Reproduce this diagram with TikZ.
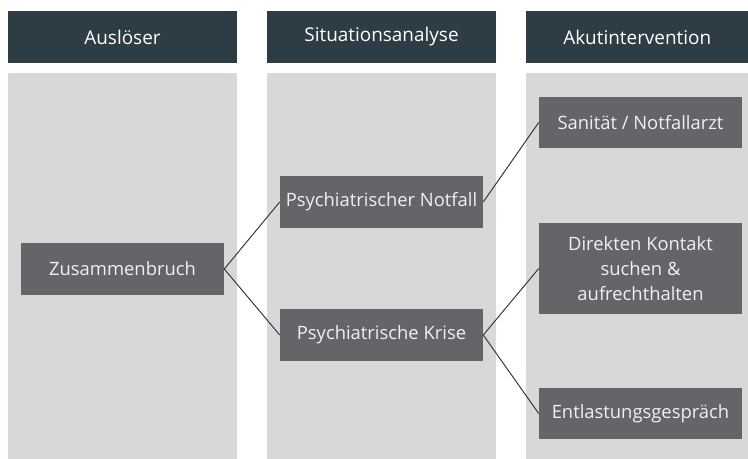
\documentclass[tikz,border=0pt]{standalone}
\usepackage{fontspec}
\setmainfont{Open Sans}
\usepackage{xcolor}
\usepackage{tikz}
\usetikzlibrary{positioning}

\definecolor{headdark}{HTML}{2E3D45}
\definecolor{colgray}{HTML}{D9D7D8}
\definecolor{boxgray}{HTML}{646569}

\tikzset{
    head/.style={rectangle, fill=headdark, text=white, minimum width=171.75pt, minimum height=39pt, inner sep=0pt, font=\fontsize{14.2}{17}\selectfont},
    box/.style={rectangle, fill=boxgray, text=white!94!black, minimum width=152.25pt, minimum height=38.5pt, inner sep=0pt, align=center, font=\fontsize{13.8}{19}\selectfont},
    link/.style={draw=headdark, line width=0.75pt}
}

\begin{document}
\begin{tikzpicture}[x=0.75pt, y=-0.75pt]
    \useasboundingbox (0,0) rectangle (748,459);
    % columns
    \fill[colgray] (8,73) rectangle (237,459);
    \fill[colgray] (267,73) rectangle (496,459);
    \fill[colgray] (526,73) rectangle (748,459);
    % headers
    \node(hausl) [head] at (122.5,37) {Auslöser};
    \node(hsitu) [head] at (381.5,37) {Situationsanalyse};
    \node(hakut) [head, minimum width=166.5pt, anchor=west] at (526,37) {Akutintervention};
    % boxes
    \node(zusammen) [box] at (122.5,269) {Zusammenbruch};
    \node(notfall) [box] at (381.5,202) {Psychiatrischer Notfall};
    \node(krise) [box] at (381.5,335) {Psychiatrische Krise};
    \node(sanitaet) [box] at (640.5,122.5) {Sanität / Notfallarzt};
    \node(kontakt) [box, minimum height=68.25pt] at (640.5,268.5) {Direkten Kontakt\\suchen \&\\aufrechthalten};
    \node(entlast) [box] at (640.5,413.5) {Entlastungsgespräch};
    % connectors
    \draw[link] (zusammen.east) -- (notfall.west);
    \draw[link] (zusammen.east) -- (krise.west);
    \draw[link] (notfall.east) -- (sanitaet.west);
    \draw[link] (krise.east) -- (kontakt.west);
    \draw[link] (krise.east) -- (entlast.west);
\end{tikzpicture}
\end{document}
